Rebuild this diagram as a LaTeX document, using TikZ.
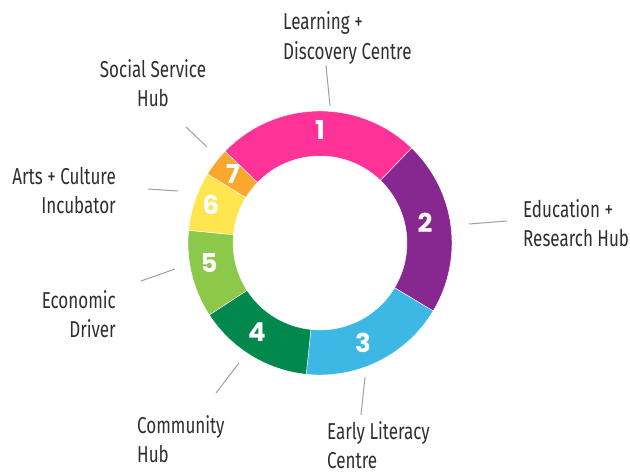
\documentclass[tikz,border=0pt]{standalone}
\usepackage{fontspec}
\newfontfamily\labelfont{Fira Sans}[FakeStretch=0.74]
\newfontfamily\numfont{Poppins}

\definecolor{learnpink}{HTML}{FF3297}
\definecolor{edupurple}{HTML}{86288F}
\definecolor{litblue}{HTML}{3DB8E5}
\definecolor{commgreen}{HTML}{00884D}
\definecolor{econgreen}{HTML}{8CC94A}
\definecolor{artsyellow}{HTML}{FFE550}
\definecolor{socorange}{HTML}{FAA82D}
\definecolor{labelgray}{HTML}{2E2E33}
\definecolor{leadgray}{HTML}{A0A0A0}

\begin{document}
\begin{tikzpicture}[x=1pt,y=1pt,
	seg/.style={draw=white, line width=.4pt},
	num/.style={text=white, inner sep=0pt, font=\numfont\bfseries\fontsize{26}{26}\selectfont},
	lbl/.style={text=labelgray, inner sep=0pt, font=\labelfont\fontsize{23}{29}\selectfont},
	lead/.style={draw=leadgray, line width=1pt}]
	\useasboundingbox (0,0) rectangle (630,475);
	
	% ring
	\begin{scope}[shift={(320,232)}]
	\fill[seg, fill=learnpink] (46:132) arc (46:136:132) -- (136:87) arc (136:46:87) -- cycle;
	\fill[seg, fill=edupurple] (-31:132) arc (-31:46:132) -- (46:87) arc (46:-31:87) -- cycle;
	\fill[seg, fill=litblue] (-96:132) arc (-96:-31:132) -- (-31:87) arc (-31:-96:87) -- cycle;
	\fill[seg, fill=commgreen] (213:132) arc (213:264:132) -- (264:87) arc (264:213:87) -- cycle;
	\fill[seg, fill=econgreen] (174.5:132) arc (174.5:213:132) -- (213:87) arc (213:174.5:87) -- cycle;
	\fill[seg, fill=artsyellow] (148.5:132) arc (148.5:174.5:132) -- (174.5:87) arc (174.5:148.5:87) -- cycle;
	\fill[seg, fill=socorange] (136:132) arc (136:148.5:132) -- (148.5:87) arc (148.5:136:87) -- cycle;
	\end{scope}
	
	\node[num] (n1) at (320,345) {1};
	\node[num] (n2) at (425,252) {2};
	\node[num] (n3) at (363,132) {3};
	\node[num] (n4) at (257,143) {4};
	\node[num] (n5) at (209,212) {5};
	\node[num] (n6) at (211,270) {6};
	\node[num] (n7) at (233,301) {7};
	
	% labels (base = last line)
	\node[lbl, align=left, anchor=base west] (learn) at (283,416) {Learning +\\Discovery Centre};
	\node[lbl, align=left, anchor=base west] (edu) at (523,229) {Education +\\Research Hub};
	\node[lbl, align=left, anchor=base west] (lit) at (327,7) {Early Literacy\\Centre};
	\node[lbl, align=left, anchor=base west] (comm) at (137,13) {Community\\Hub};
	\node[lbl, align=right, anchor=base east] (econ) at (116,138) {Economic\\Driver};
	\node[lbl, align=right, anchor=base east] (arts) at (116,262) {Arts + Culture\\Incubator};
	\node[lbl, align=center, anchor=base] (social) at (153,369) {Social Service\\Hub};
	
	% leaders
	\coordinate (learn-a) at (326,410);
	\coordinate (learn-b) at (330,369);
	\coordinate (edu-a) at (507,254);
	\coordinate (edu-b) at (469,251);
	\coordinate (lit-a) at (361,60);
	\coordinate (lit-b) at (365,98);
	\coordinate (comm-a) at (216,82);
	\coordinate (comm-b) at (239,112);
	\coordinate (econ-a) at (141,194);
	\coordinate (econ-b) at (175,206);
	\coordinate (arts-a) at (148,286);
	\coordinate (arts-b) at (178,284);
	\coordinate (social-a) at (186,348);
	\coordinate (social-b) at (207,328);
	\draw[lead] (learn-a) -- (learn-b);
	\draw[lead] (edu-a) -- (edu-b);
	\draw[lead] (lit-a) -- (lit-b);
	\draw[lead] (comm-a) -- (comm-b);
	\draw[lead] (econ-a) -- (econ-b);
	\draw[lead] (arts-a) -- (arts-b);
	\draw[lead] (social-a) -- (social-b);
\end{tikzpicture}
\end{document}
